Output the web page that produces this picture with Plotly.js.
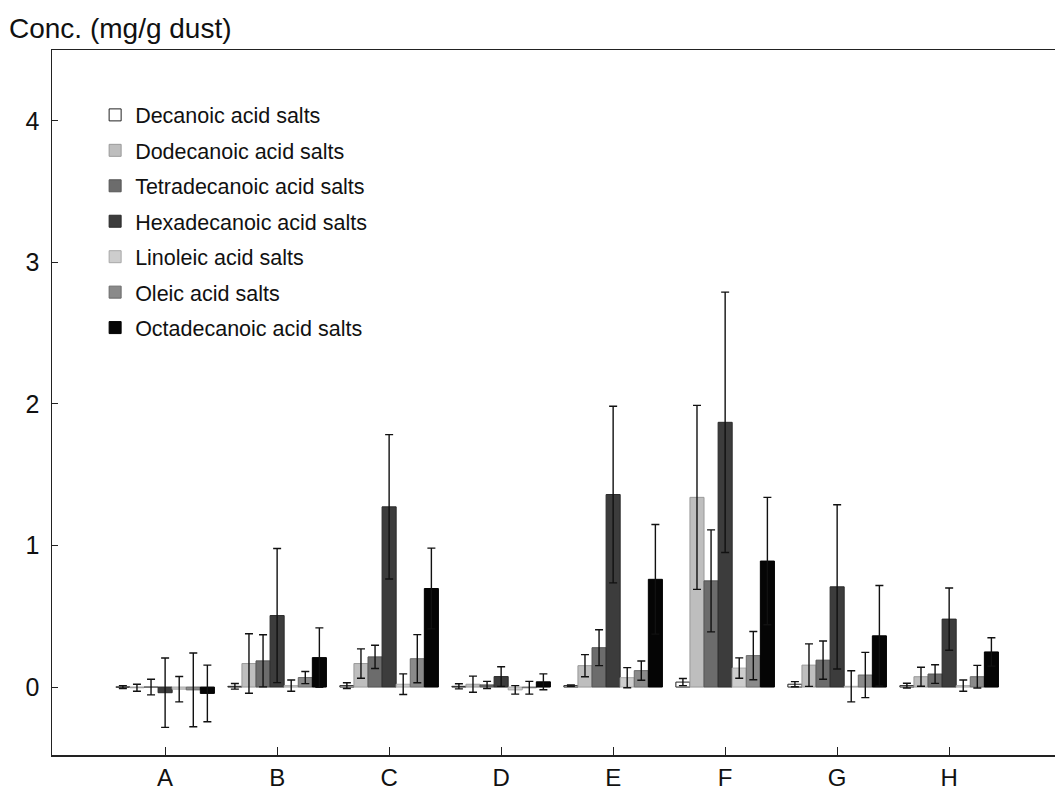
<!DOCTYPE html>
<html>
<head>
<meta charset="utf-8">
<script src="https://cdn.plot.ly/plotly-3.0.1.min.js"></script>
<style>html,body{margin:0;padding:0;background:#fff;}#chart{width:1055px;height:791px;}</style>
</head>
<body>
<div id="chart"></div>
<script>
var categories = ['A','B','C','D','E','F','G','H'];
var seriesNames = ['Decanoic acid salts','Dodecanoic acid salts','Tetradecanoic acid salts','Hexadecanoic acid salts','Linoleic acid salts','Oleic acid salts','Octadecanoic acid salts'];

var decanoic = [0.0, 0.005, 0.01, 0.005, 0.01, 0.035, 0.02, 0.01];
var decanoicErr = [0.01, 0.02, 0.02, 0.018, 0.005, 0.025, 0.018, 0.017];
var dodecanoic = [-0.005, 0.166, 0.166, 0.02, 0.151, 1.34, 0.155, 0.073];
var dodecanoicErr = [0.025, 0.21, 0.104, 0.057, 0.078, 0.65, 0.15, 0.067];
var tetradecanoic = [0.0, 0.185, 0.213, 0.015, 0.278, 0.75, 0.19, 0.092];
var tetradecanoicErr = [0.055, 0.184, 0.082, 0.025, 0.127, 0.36, 0.135, 0.066];
var hexadecanoic = [-0.04, 0.505, 1.273, 0.074, 1.36, 1.87, 0.708, 0.48];
var hexadecanoicErr = [0.245, 0.474, 0.51, 0.069, 0.624, 0.92, 0.58, 0.22];
var linoleic = [-0.015, 0.01, 0.02, -0.02, 0.066, 0.134, 0.005, 0.01];
var linoleicErr = [0.09, 0.04, 0.073, 0.03, 0.071, 0.072, 0.11, 0.04];
var oleic = [-0.02, 0.067, 0.2, -0.005, 0.116, 0.222, 0.085, 0.073];
var oleicErr = [0.26, 0.043, 0.17, 0.045, 0.068, 0.17, 0.16, 0.08];
var octadecanoic = [-0.045, 0.208, 0.696, 0.037, 0.761, 0.89, 0.362, 0.248];
var octadecanoicErr = [0.2, 0.21, 0.285, 0.056, 0.387, 0.45, 0.355, 0.1];

var yTickVals = [0, 1, 2, 3, 4];
var yTickText = ['0', '1', '2', '3', '4'];

var values = [decanoic, dodecanoic, tetradecanoic, hexadecanoic, linoleic, oleic, octadecanoic];
var errors = [decanoicErr, dodecanoicErr, tetradecanoicErr, hexadecanoicErr, linoleicErr, oleicErr, octadecanoicErr];
var fills = ['#ffffff', '#bebebe', '#6c6c6c', '#3c3c3c', '#cdcdcd', '#8a8a8a', '#050505'];
var lines = ['#222222', '#9a9a9a', '#555555', '#2a2a2a', '#a8a8a8', '#6a6a6a', '#000000'];

var traces = seriesNames.map(function(name, i) {
  return {
    type: 'bar',
    name: name,
    x: categories,
    y: values[i],
    legendgroup: 'g' + i,
    marker: {color: fills[i], line: {color: lines[i], width: 1}},
    error_y: {type: 'data', array: errors[i], visible: true, color: '#111111', thickness: 1.4, width: 4}
  };
});

var font = 'Liberation Sans, Arial, Helvetica, sans-serif';

var layout = {
  width: 1055,
  height: 791,
  margin: {l: 52, r: 0, t: 50, b: 36, pad: 0},
  paper_bgcolor: '#ffffff',
  plot_bgcolor: '#ffffff',
  barmode: 'group',
  bargap: 0.12,
  bargroupgap: 0,
  showlegend: true,
  title: {
    text: 'Conc. (mg/g dust)',
    font: {family: font, size: 28, color: '#111111'},
    xref: 'container', x: 9 / 1055, xanchor: 'left',
    yref: 'container', y: 1 - 28 / 791, yanchor: 'middle'
  },
  legend: {
    x: 0.043, y: 0.937, xanchor: 'left', yanchor: 'top',
    bgcolor: 'rgba(0,0,0,0)',
    font: {family: font, size: 21.5, color: '#111111'},
    traceorder: 'grouped',
    tracegroupgap: 4.5
  },
  xaxis: {
    type: 'category',
    range: [-1.01, 7.945],
    showline: true, linecolor: '#222222', linewidth: 1.5, mirror: true,
    ticks: 'inside', ticklen: 8, tickcolor: '#222222', tickwidth: 1,
    showgrid: false, zeroline: false,
    tickfont: {family: font, size: 24, color: '#111111'},
    ticklabelstandoff: 1
  },
  yaxis: {
    range: [-0.48, 4.5],
    tickvals: yTickVals, ticktext: yTickText,
    showline: true, linecolor: '#222222', linewidth: 1.5, mirror: false,
    ticks: 'inside', ticklen: 6, tickcolor: '#222222', tickwidth: 1,
    showgrid: false, zeroline: false,
    tickfont: {family: font, size: 25, color: '#111111'},
    ticklabelstandoff: 6
  }
};

Plotly.newPlot('chart', traces, layout, {staticPlot: true, displayModeBar: false});
</script>
</body>
</html>
